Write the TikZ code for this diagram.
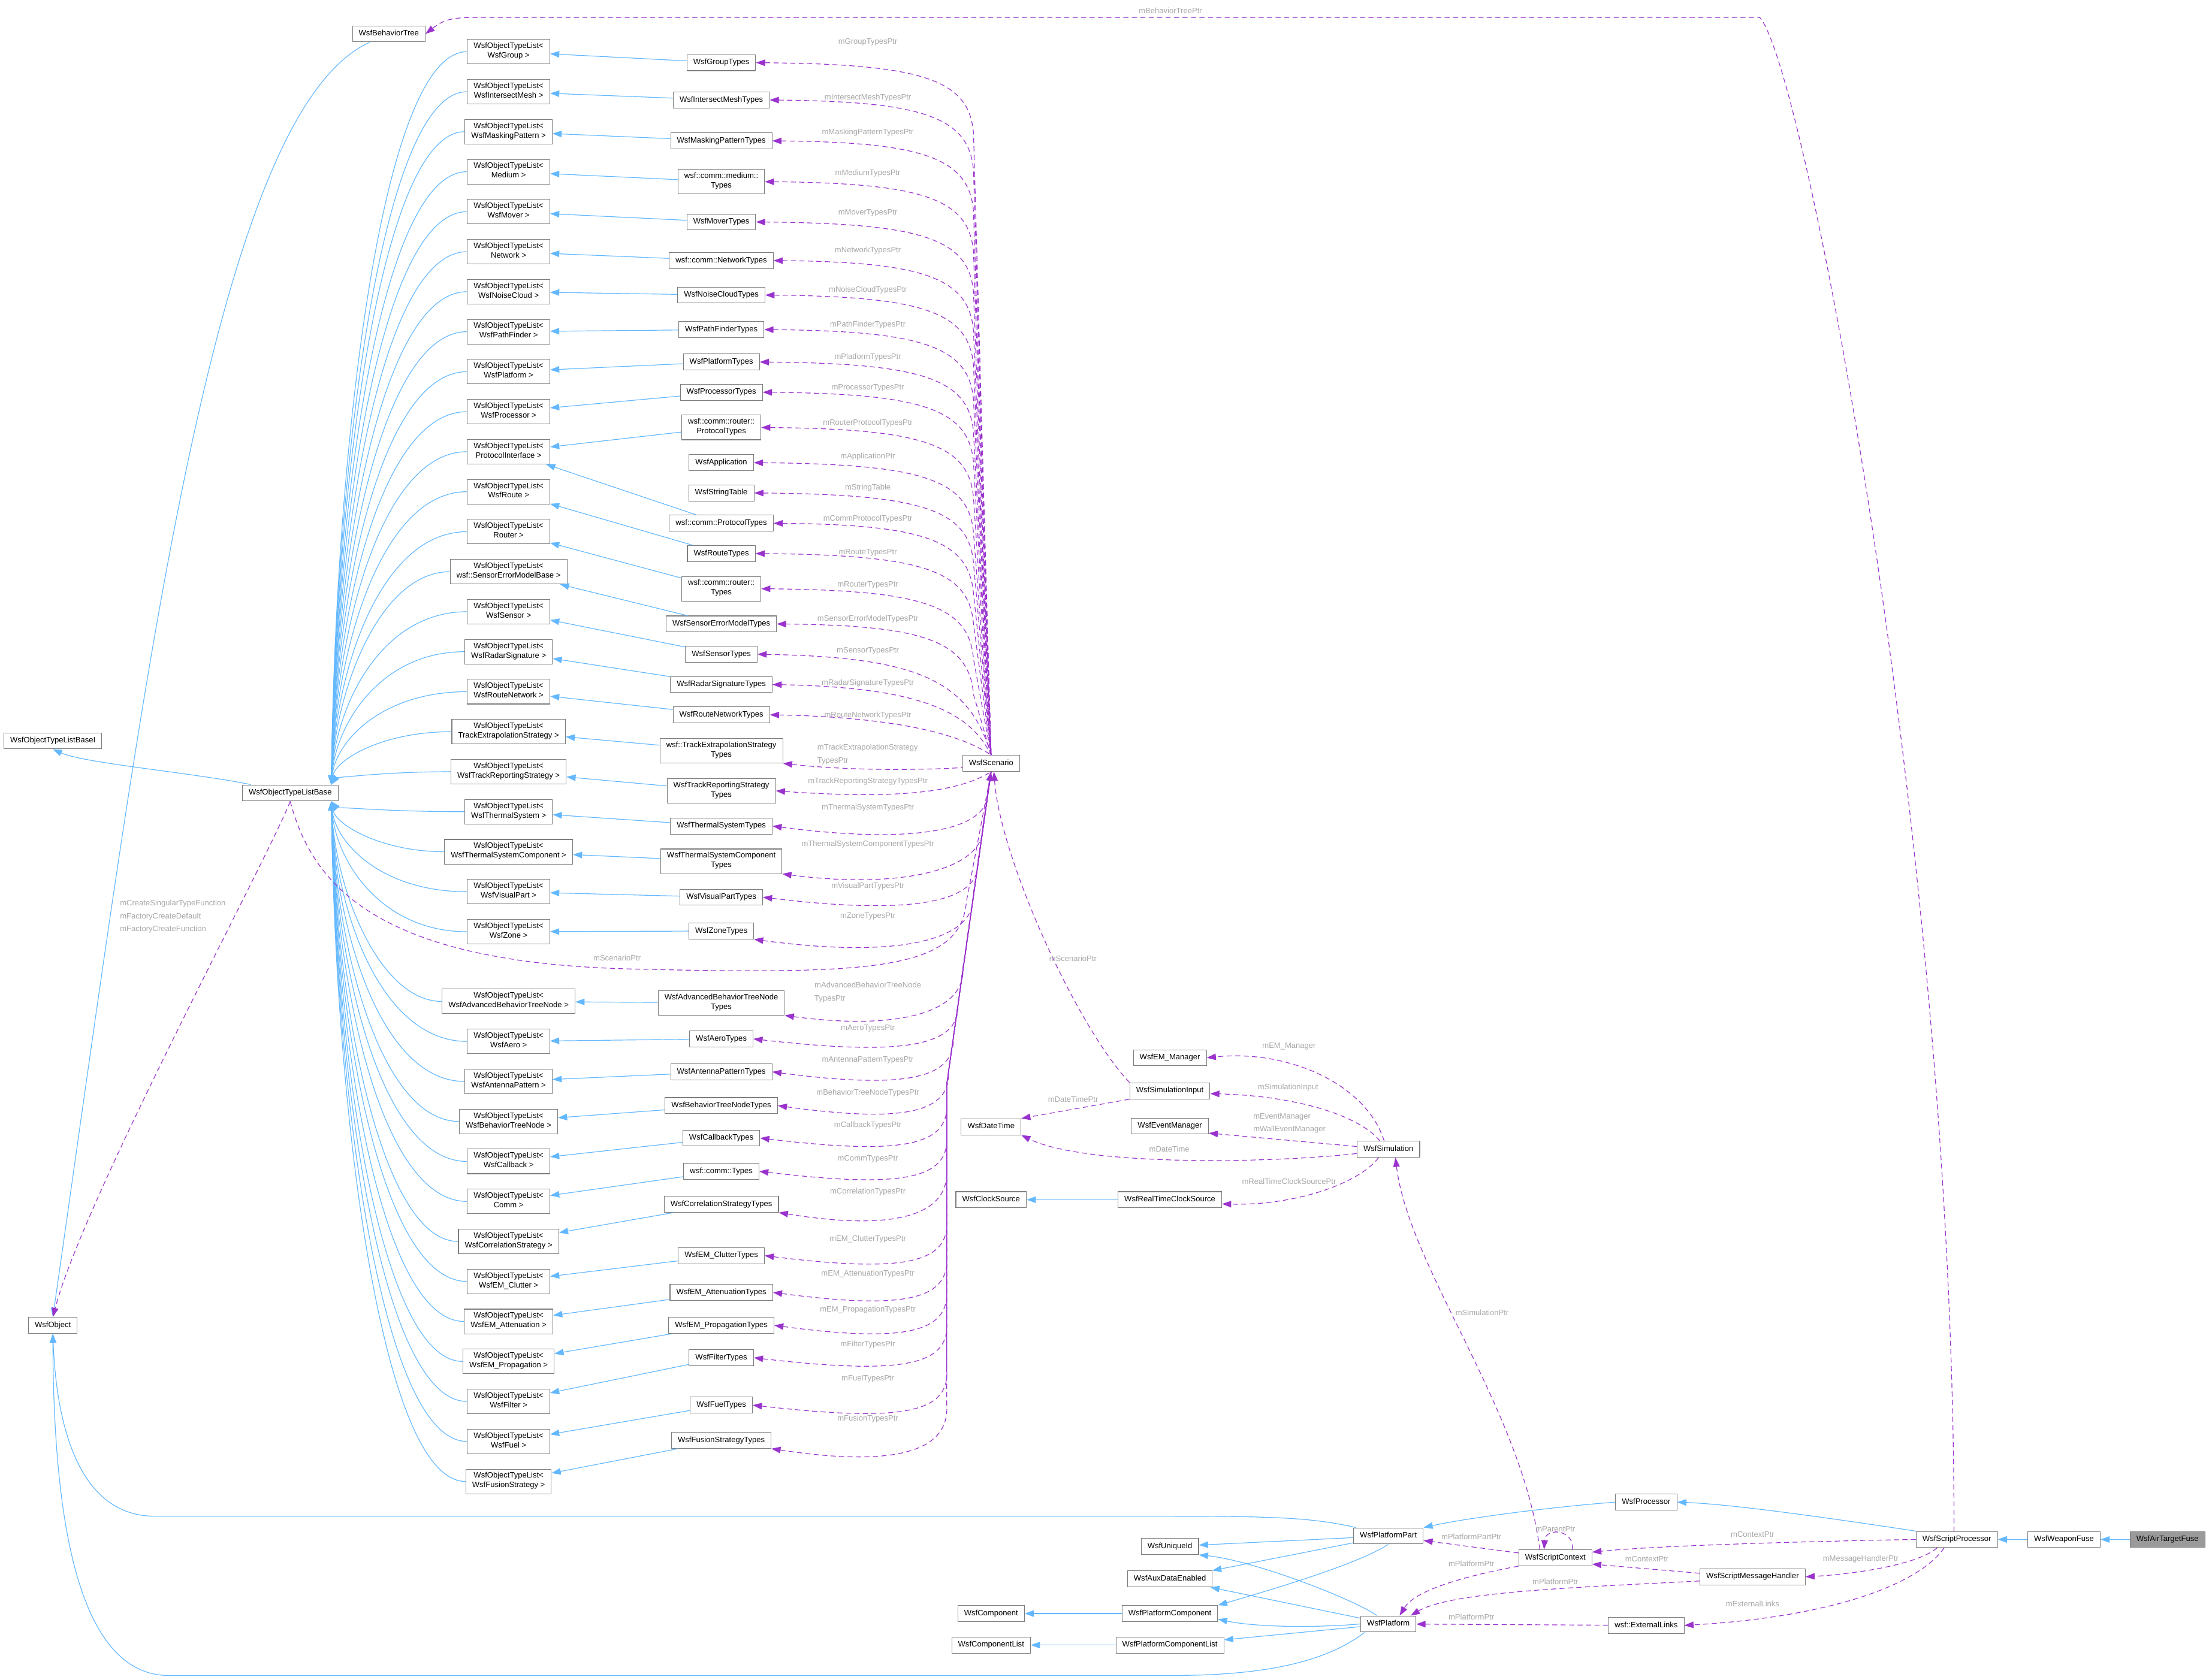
\documentclass[tikz,border=0pt]{standalone}
\usepackage{fontspec}
\setmainfont{Liberation Sans}
\usetikzlibrary{arrows.meta,calc}

\definecolor{inhblue}{HTML}{63B8FF}
\definecolor{memviolet}{HTML}{9A32CD}
\definecolor{lblgray}{HTML}{A8A8A8}
\definecolor{boxgray}{HTML}{7D7D7D}
\definecolor{rootgray}{HTML}{9A9A9A}

\begin{document}
\begin{tikzpicture}[x=1pt,y=-1pt,>={Triangle[length=6.5pt,width=4.6pt]},
    cls/.style={draw=boxgray,line width=0.45pt,fill=white,align=center,inner xsep=4.5pt,inner ysep=2.3pt,
      font=\fontsize{5.55}{6.8}\selectfont,execute at begin node=\strut,execute at end node=\strut},
    root/.style={cls,fill=rootgray},
    lbl/.style={text=lblgray,inner sep=0pt,align=left,font=\fontsize{5.55}{9.2}\selectfont},
    inh/.style={draw=inhblue,line width=0.5pt,->},
    mem/.style={draw=memviolet,line width=0.5pt,dash pattern=on 3.6pt off 2.4pt,->}]
        % Canvas
        \useasboundingbox (0,0) rectangle (1568,1192.4);
        \fill[white] (0,0) rectangle (1568,1192.4);

        % Base classes on the left
        \node[cls] (bt) at (276,24) {WsfBehaviorTree};
        \node[cls] (basei) at (37.5,526) {WsfObjectTypeListBaseI};
        \node[cls] (base) at (206,563) {WsfObjectTypeListBase};
        \node[cls] (obj) at (37.5,941) {WsfObject};

        % Template lists
        \foreach \k/\nm/\y in {Group/WsfGroup/36.7, IntersectMesh/WsfIntersectMesh/65.1,
            MaskingPattern/WsfMaskingPattern/93.5, Medium/Medium/121.9, Mover/WsfMover/150.3,
            Network/Network/178.7, NoiseCloud/WsfNoiseCloud/207.1, PathFinder/WsfPathFinder/235.5,
            Platform/WsfPlatform/263.9, Processor/WsfProcessor/292.3,
            ProtocolInterface/ProtocolInterface/320.7, Route/WsfRoute/349.1, Router/Router/377.5,
            SensorErrorModel/wsf::SensorErrorModelBase/405.9, Sensor/WsfSensor/434.3,
            RadarSignature/WsfRadarSignature/462.7, RouteNetwork/WsfRouteNetwork/491.1,
            TrackExtrapolation/TrackExtrapolationStrategy/519.5,
            TrackReporting/WsfTrackReportingStrategy/547.9, ThermalSystem/WsfThermalSystem/576.3,
            ThermalSystemComponent/WsfThermalSystemComponent/604.7, VisualPart/WsfVisualPart/633.1,
            Zone/WsfZone/661.5, AdvancedBTN/WsfAdvancedBehaviorTreeNode/711, Aero/WsfAero/739.4,
            AntennaPattern/WsfAntennaPattern/767.8, BehaviorTreeNode/WsfBehaviorTreeNode/796.2,
            Callback/WsfCallback/824.6, Comm/Comm/853, CorrelationStrategy/WsfCorrelationStrategy/881.4,
            EMClutter/WsfEM\_Clutter/909.8, EMAttenuation/WsfEM\_Attenuation/938.2,
            EMPropagation/WsfEM\_Propagation/966.6, Filter/WsfFilter/995, Fuel/WsfFuel/1023.4,
            FusionStrategy/WsfFusionStrategy/1051.8}
          \node[cls] (l\k) at (361,\y) {WsfObjectTypeList<\\\nm\ >};

        % Type collections and their member labels
        \foreach \k/\nm/\y/\ly/\lab in {Group/WsfGroupTypes/44.5/29.8/mGroupTypesPtr,
            IntersectMesh/WsfIntersectMeshTypes/71/69.5/mIntersectMeshTypesPtr,
            MaskingPattern/WsfMaskingPatternTypes/100/93.9/mMaskingPatternTypesPtr,
            Medium/{wsf::comm::medium::\\Types}/129/122.8/mMediumTypesPtr,
            Mover/WsfMoverTypes/157.6/151/mMoverTypesPtr,
            Network/wsf::comm::NetworkTypes/185/177.7/mNetworkTypesPtr,
            NoiseCloud/WsfNoiseCloudTypes/209.5/206/mNoiseCloudTypesPtr,
            PathFinder/WsfPathFinderTypes/234/230.4/mPathFinderTypesPtr,
            Platform/WsfPlatformTypes/257/253.4/mPlatformTypesPtr,
            Processor/WsfProcessorTypes/278.5/275.5/mProcessorTypesPtr,
            RouterProtocol/{wsf::comm::router::\\ProtocolTypes}/303.5/300.2/mRouterProtocolTypesPtr,
            Application/WsfApplication/328.5/324.1/mApplicationPtr,
            StringTable/WsfStringTable/350/346.4/mStringTable,
            CommProtocol/wsf::comm::ProtocolTypes/371.5/368.6/mCommProtocolTypesPtr,
            Route/WsfRouteTypes/393/392.5/mRouteTypesPtr,
            Router/{wsf::comm::router::\\Types}/418/415.4/mRouterTypesPtr,
            SensorErrorModel/WsfSensorErrorModelTypes/443/439.5/mSensorErrorModelTypesPtr,
            Sensor/WsfSensorTypes/464.5/462.2/mSensorTypesPtr,
            RadarSignature/WsfRadarSignatureTypes/486/485.2/mRadarSignatureTypesPtr,
            RouteNetwork/WsfRouteNetworkTypes/507.5/508/mRouteNetworkTypesPtr,
            TrackReporting/{WsfTrackReportingStrategy\\Types}/561.5/554.7/mTrackReportingStrategyTypesPtr,
            ThermalSystem/WsfThermalSystemTypes/586.5/573.4/mThermalSystemTypesPtr,
            ThermalSystemComponent/{WsfThermalSystemComponent\\Types}/611.5/599.4/mThermalSystemComponentTypesPtr,
            VisualPart/WsfVisualPartTypes/637/629/mVisualPartTypesPtr,
            Zone/WsfZoneTypes/661/650.4/mZoneTypesPtr,
            Aero/WsfAeroTypes/737.6/730.2/mAeroTypesPtr,
            AntennaPattern/WsfAntennaPatternTypes/761/752.5/mAntennaPatternTypesPtr,
            BehaviorTreeNode/WsfBehaviorTreeNodeTypes/785/775.8/mBehaviorTreeNodeTypesPtr,
            Callback/WsfCallbackTypes/808/799/mCallbackTypesPtr,
            Comm/wsf::comm::Types/831.6/823/mCommTypesPtr,
            CorrelationStrategy/WsfCorrelationStrategyTypes/855/846/mCorrelationTypesPtr,
            EMClutter/WsfEM\_ClutterTypes/891.5/879.6/mEM\_ClutterTypesPtr,
            EMAttenuation/WsfEM\_AttenuationTypes/917.6/904.6/mEM\_AttenuationTypesPtr,
            EMPropagation/WsfEM\_PropagationTypes/941/930/mEM\_PropagationTypesPtr,
            Filter/WsfFilterTypes/964/954.5/mFilterTypesPtr,
            Fuel/WsfFuelTypes/997.6/979/mFuelTypesPtr,
            FusionStrategy/WsfFusionStrategyTypes/1022.6/1007.3/mFusionTypesPtr}
          {\node[cls] (t\k) at (512,\y) {\nm};
           \node[lbl] (lb\k) at (616,\ly) {\lab};}
        \node[cls] (tTrackExtrapolation) at (512,533) {wsf::TrackExtrapolationStrategy\\Types};
        \node[lbl,anchor=west] (lbTrackExtrapolation) at (580,535.5) {mTrackExtrapolationStrategy\\TypesPtr};
        \node[cls] (tAdvancedBTN) at (512,712) {WsfAdvancedBehaviorTreeNode\\Types};
        \node[lbl,anchor=west] (lbAdvancedBTN) at (578,704.5) {mAdvancedBehaviorTreeNode\\TypesPtr};

        % Scenario, simulation and platform classes
        \node[cls] (sc) at (703.5,542) {WsfScenario};
        \node[cls] (emm) at (830.4,751) {WsfEM\_Manager};
        \node[cls] (si) at (830.4,774.5) {WsfSimulationInput};
        \node[cls] (evm) at (830.4,799.5) {WsfEventManager};
        \node[cls] (dt) at (703.5,800) {WsfDateTime};
        \node[cls] (sim) at (985.5,816) {WsfSimulation};
        \node[cls] (clk) at (703.5,851.8) {WsfClockSource};
        \node[cls] (rtc) at (830.4,851.8) {WsfRealTimeClockSource};
        \node[cls] (proc) at (1168.5,1066.5) {WsfProcessor};
        \node[cls] (pp) at (985.5,1090.5) {WsfPlatformPart};
        \node[cls] (uid) at (830.4,1098) {WsfUniqueId};
        \node[cls] (aux) at (830.4,1121) {WsfAuxDataEnabled};
        \node[cls] (pc) at (830.4,1145.6) {WsfPlatformComponent};
        \node[cls] (pcl) at (830.4,1168) {WsfPlatformComponentList};
        \node[cls] (comp) at (703.5,1145.6) {WsfComponent};
        \node[cls] (compl) at (703.5,1168) {WsfComponentList};
        \node[cls] (pf) at (985.5,1153) {WsfPlatform};
        \node[cls] (ctx) at (1104,1106) {WsfScriptContext};
        \node[cls] (mh) at (1244,1119.5) {WsfScriptMessageHandler};
        \node[cls] (el) at (1168.5,1154) {wsf::ExternalLinks};
        \node[cls] (sp) at (1389,1093) {WsfScriptProcessor};
        \node[cls] (wf) at (1465,1093) {WsfWeaponFuse};
        \node[root] (atf) at (1538.5,1093) {WsfAirTargetFuse};

        % Inheritance of the lists
        \coordinate (baseU) at ($(base.north east)+(-5,0)$);
        \coordinate (baseD) at ($(base.south east)+(-5,0)$);
        \foreach \k/\y in {Group/36.7, IntersectMesh/65.1, MaskingPattern/93.5, Medium/121.9, Mover/150.3,
            Network/178.7, NoiseCloud/207.1, PathFinder/235.5, Platform/263.9, Processor/292.3,
            ProtocolInterface/320.7, Route/349.1, Router/377.5, SensorErrorModel/405.9, Sensor/434.3,
            RadarSignature/462.7, RouteNetwork/491.1, TrackExtrapolation/519.5, TrackReporting/547.9}
          \draw[inh] (l\k.west) .. controls (270,\y) and (238,{557+(\y-557)*0.45}) .. (baseU);
        \foreach \k/\y in {ThermalSystem/576.3, ThermalSystemComponent/604.7, VisualPart/633.1, Zone/661.5,
            AdvancedBTN/711, Aero/739.4, AntennaPattern/767.8, BehaviorTreeNode/796.2, Callback/824.6,
            Comm/853, CorrelationStrategy/881.4, EMClutter/909.8, EMAttenuation/938.2,
            EMPropagation/966.6, Filter/995, Fuel/1023.4, FusionStrategy/1051.8}
          \draw[inh] (l\k.west) .. controls (270,\y) and (238,{569+(\y-569)*0.45}) .. (baseD);
        \foreach \k in {Group, IntersectMesh, MaskingPattern, Medium, Mover, Network, NoiseCloud,
            PathFinder, Platform, Processor, Route, Router, SensorErrorModel, Sensor, RadarSignature,
            RouteNetwork, TrackExtrapolation, TrackReporting, ThermalSystem, ThermalSystemComponent,
            VisualPart, Zone, AdvancedBTN, Aero, AntennaPattern, BehaviorTreeNode, Callback, Comm,
            CorrelationStrategy, EMClutter, EMAttenuation, EMPropagation, Filter, Fuel, FusionStrategy}
          \draw[inh] (t\k) -- (l\k);
        \draw[inh] (tRouterProtocol) -- (lProtocolInterface);
        \draw[inh] (tCommProtocol) -- (lProtocolInterface);
        \draw[inh] (base) .. controls (140,549) and (60,542) .. (basei.south);
        \draw[inh] (bt) .. controls (150,80) and (100,500) .. (obj.north);

        % Scenario members above
        \foreach \k/\y in {Group/44.5, IntersectMesh/71, MaskingPattern/100, Medium/129, Mover/157.6,
            Network/185, NoiseCloud/209.5, PathFinder/234, Platform/257, Processor/278.5,
            RouterProtocol/303.5, Application/328.5, StringTable/350, CommProtocol/371.5, Route/393,
            Router/418, SensorErrorModel/443}
          \draw[mem,<-] (t\k.east) .. controls (655,\y+1) and (688,\y+12) .. (691,\y+50) -- (sc.north);
        \foreach \k/\y in {Sensor/464.5, RadarSignature/486, RouteNetwork/507.5}
          \draw[mem,<-] (t\k.east) .. controls (650,\y+2) and (688,\y+18) .. (sc.north);
        \draw[mem,<-] (tTrackExtrapolation.south east) .. controls (600,547) and (650,547) .. ($(sc.west)+(0,3)$);

        % Scenario members below
        \draw[mem,<-] (tTrackReporting.east) .. controls (630,567) and (678,564) .. (sc.south);
        \foreach \k/\y/\an/\d in {ThermalSystem/586.5/east/12, ThermalSystemComponent/611.5/south east/20,
            VisualPart/637/east/12, Zone/661/south east/20, AdvancedBTN/712/south east/20,
            Aero/737.6/east/12, AntennaPattern/761/east/12, BehaviorTreeNode/785/east/12}
          \draw[mem,<-] (t\k.\an) .. controls (640,\y+\d) and ({705-(\y-573)*0.14},\y+6) .. ({703-(\y-573)*0.14},\y-25) -- (sc.south);
        \foreach \k/\y/\an/\d in {Callback/808/east/12, Comm/831.6/east/12,
            CorrelationStrategy/855/south east/20, EMClutter/891.5/east/12, EMAttenuation/917.6/east/12,
            EMPropagation/941/east/12, Filter/964/east/12, Fuel/997.6/east/12,
            FusionStrategy/1022.6/south east/20}
          \draw[mem,<-] (t\k.\an) .. controls (640,\y+\d) and (674,\y+6) .. (672,\y-25) -- (672,770) -- (sc.south);

        % List base members
        \draw[mem] (base.south) .. controls (222,630) and (270,684) .. (450,688)
          .. controls (620,692) and (682,689) .. (686,640) -- (sc.south);
        \node[lbl] (lbScenarioBase) at (438,680) {mScenarioPtr};
        \draw[mem] (base.south) .. controls (190,610) and (60,850) .. (obj.north);
        \node[lbl,anchor=west] (lbFactory) at (85,650.8) {mCreateSingularTypeFunction\\mFactoryCreateDefault\\mFactoryCreateFunction};

        % Simulation members
        \draw[mem] (si.north west) .. controls (765,730) and (710,610) .. ($(sc.south)+(2,0)$);
        \node[lbl] (lbScenarioInput) at (761.6,680.6) {mScenarioPtr};
        \draw[mem] (si.south west) -- (dt.north east);
        \node[lbl] (lbDateTimePtr) at (761.7,780.5) {mDateTimePtr};
        \draw[mem] ($(sim.north)+(-3,0)$) .. controls (970,770) and (915,745) .. (emm.east);
        \node[lbl] (lbEM) at (915,742.7) {mEM\_Manager};
        \draw[mem] ($(sim.north)+(-6,0)$) .. controls (965,792) and (920,778) .. ($(si.east)+(0,2)$);
        \node[lbl] (lbSimInput) at (914.3,772) {mSimulationInput};
        \draw[mem] ($(sim.west)+(0,-2)$) -- ($(evm.east)+(0,5)$);
        \node[lbl,anchor=west] (lbEvents) at (889.4,797.5) {mEventManager\\mWallEventManager};
        \draw[mem] ($(sim.west)+(0,3)$) .. controls (900,826) and (770,828) .. (dt.south east);
        \node[lbl] (lbDateTime) at (830,815.7) {mDateTime};
        \draw[mem] ($(sim.south)+(-7,0)$) .. controls (965,840) and (920,856) .. ($(rtc.east)+(0,3)$);
        \node[lbl] (lbClock) at (915,839) {mRealTimeClockSourcePtr};
        \draw[inh] (rtc) -- (clk);

        % Script context members
        \draw[mem] ($(ctx.north)+(-11,0)$) .. controls (1080,1000) and (1000,900) .. ($(sim.south)+(5,0)$);
        \node[lbl] (lbSimPtr) at (1052,932) {mSimulationPtr};
        \draw[mem] ($(ctx.north)+(12,0)$) .. controls (1118,1086) and (1097,1084) .. ($(ctx.north)+(-8,0)$);
        \node[lbl] (lbParent) at (1104,1085.8) {mParentPtr};
        \draw[mem] (ctx) -- (pp);
        \node[lbl] (lbPartPtr) at (1044.4,1091) {mPlatformPartPtr};
        \draw[mem] (ctx.south west) .. controls (1045,1118) and (1005,1128) .. ($(pf.north)+(8,0)$);
        \node[lbl] (lbPfCtx) at (1044.4,1110) {mPlatformPtr};
        \draw[mem] (sp.west) .. controls (1300,1094) and (1180,1097) .. ($(ctx.east)+(0,-4)$);
        \node[lbl] (lbCtxSp) at (1244,1089.6) {mContextPtr};
        \draw[mem] ($(mh.west)+(0,-2.5)$) -- ($(ctx.east)+(0,4.5)$);
        \node[lbl] (lbCtxMh) at (1169,1106.7) {mContextPtr};
        \draw[mem] ($(sp.south)+(-14,0)$) .. controls (1360,1112) and (1310,1118) .. (mh.east);
        \node[lbl] (lbHandler) at (1320.8,1107) {mMessageHandlerPtr};
        \draw[mem] ($(mh.west)+(0,3)$) .. controls (1120,1127) and (1030,1130) .. ($(pf.north east)+(-4,0)$);
        \node[lbl] (lbPfMh) at (1104,1123) {mPlatformPtr};
        \draw[mem] ($(sp.south)+(-9,0)$) .. controls (1362,1125) and (1300,1148) .. (el.east);
        \node[lbl] (lbLinks) at (1244,1138.7) {mExternalLinks};
        \draw[mem] (el) -- (pf);
        \node[lbl] (lbPfEl) at (1044.4,1148) {mPlatformPtr};

        % Behavior tree member
        \draw[mem,<-] (bt.east) .. controls (315,14) and (320,12.3) .. (340,12.3) -- (1249,12.3)
          .. controls (1280,45) and (1387,600) .. ($(sp.north)+(-2,0)$);
        \node[lbl] (lbTree) at (830.8,7.4) {mBehaviorTreePtr};

        % Processor hierarchy
        \draw[inh] (atf) -- (wf);
        \draw[inh] (wf) -- (sp);
        \draw[inh] (sp.north west) .. controls (1300,1078) and (1230,1068) .. (proc.east);
        \draw[inh] (proc.west) .. controls (1100,1070) and (1040,1078) .. (pp.north east);
        \draw[inh] ($(pp.north west)+(2,0)$) .. controls (930,1077) and (900,1076.5) .. (820,1076.5)
          -- (110,1076.5) .. controls (55,1076.5) and (40,1010) .. (obj.south);
        \draw[inh] (pp) -- (uid);
        \draw[inh] (pp) -- (aux);
        \draw[inh] (pp.south) .. controls (965,1110) and (905,1128) .. (pc.north east);
        \draw[inh] ($(pf.north)+(-8,0)$) .. controls (960,1135) and (890,1108) .. (uid.south east);
        \draw[inh] (pf) -- (aux);
        \draw[inh] (pf.west) .. controls (930,1156) and (890,1155) .. ($(pc.east)+(0,4)$);
        \draw[inh] (pf) -- (pcl);
        \draw[inh] ($(pf.south west)+(3,0)$) .. controls (935,1185) and (880,1189.6) .. (830,1189.6)
          -- (120,1189.6) .. controls (50,1189.6) and (38,1060) .. (obj.south);
        \draw[inh] (pc) -- (comp);
        \draw[inh] (pcl) -- (compl);
\end{tikzpicture}
\end{document}
